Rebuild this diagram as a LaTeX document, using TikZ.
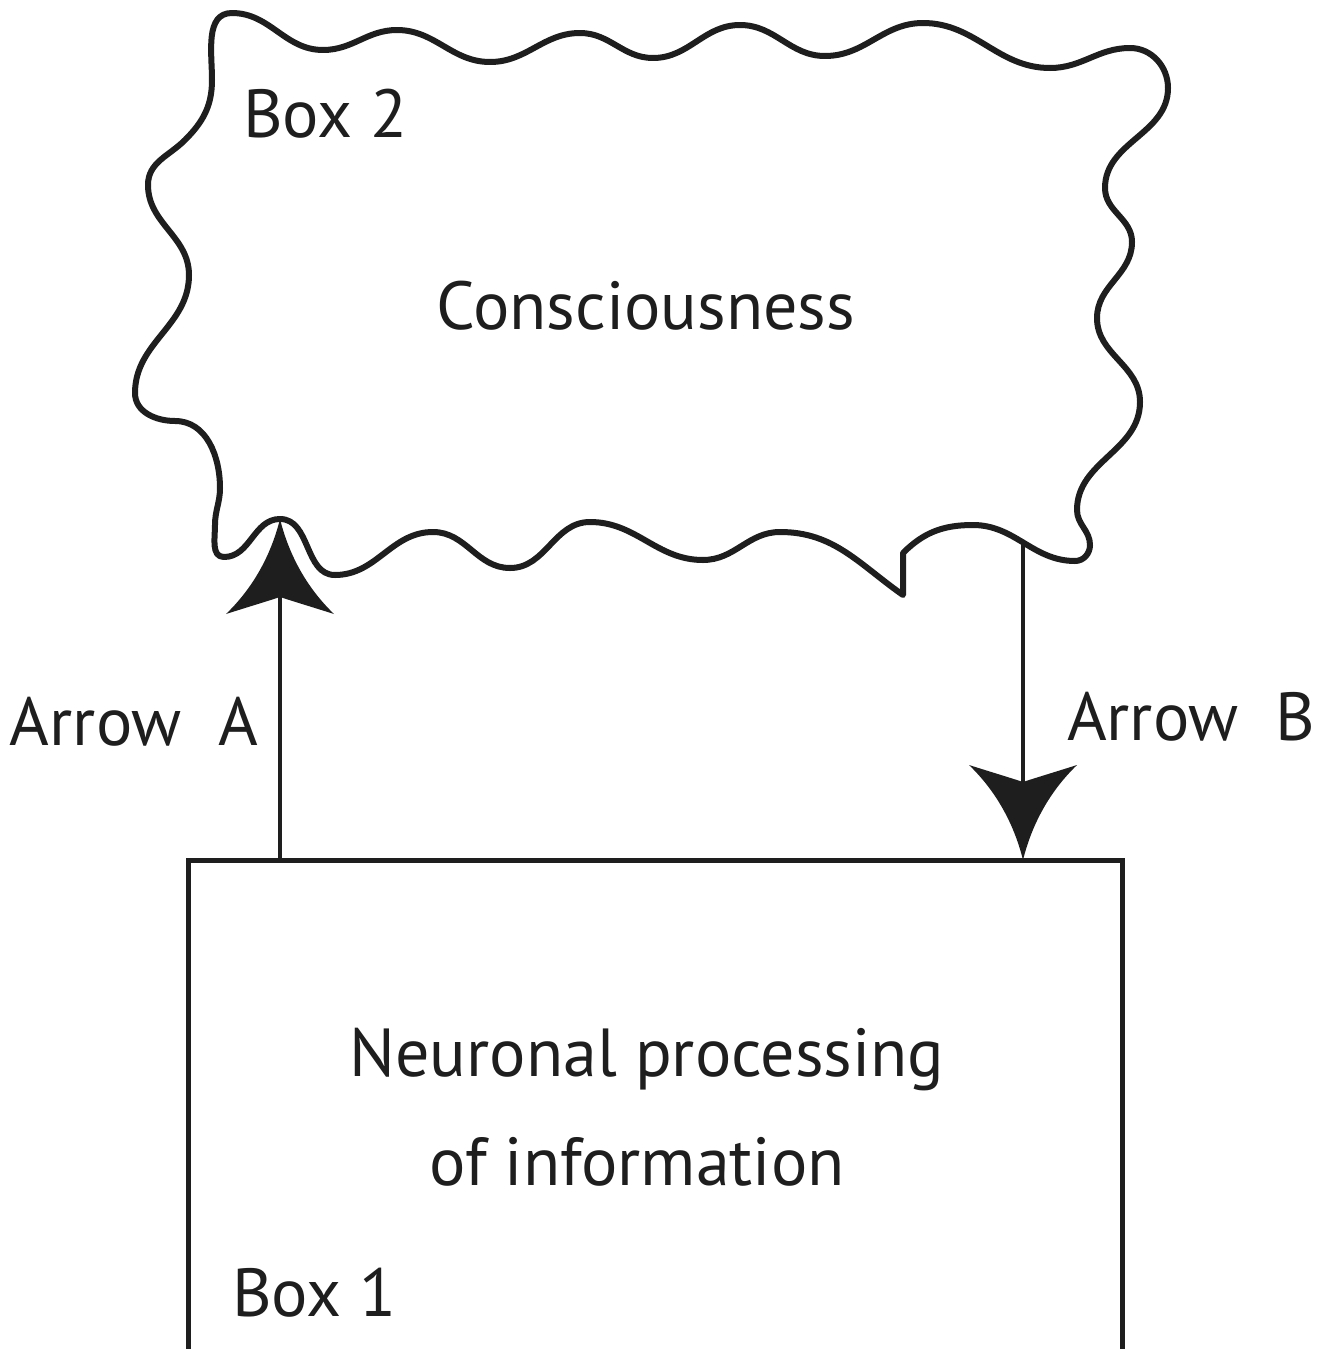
\documentclass[tikz,border=0pt]{standalone}
\usepackage{fontspec}
\setmainfont{PT Sans}
\definecolor{ink}{HTML}{1E1E1E}
\pgfdeclarearrow{
  name = Flare,
  setup code = {%
    \pgfarrowssettipend{0pt}%
    \pgfarrowssetbackend{-47.5pt}%
    \pgfarrowssetlineend{-30pt}%
    \pgfarrowshullpoint{0pt}{0pt}%
    \pgfarrowsupperhullpoint{-47.5pt}{27pt}%
  },
  drawing code = {%
    \pgfpathmoveto{\pgfqpoint{0pt}{0pt}}%
    \pgfpathcurveto{\pgfqpoint{-16pt}{4pt}}{\pgfqpoint{-33pt}{12pt}}{\pgfqpoint{-47.5pt}{27pt}}%
    \pgfpathcurveto{\pgfqpoint{-44pt}{16pt}}{\pgfqpoint{-41pt}{6pt}}{\pgfqpoint{-39pt}{0pt}}%
    \pgfpathcurveto{\pgfqpoint{-41pt}{-6pt}}{\pgfqpoint{-44pt}{-16pt}}{\pgfqpoint{-47.5pt}{-27pt}}%
    \pgfpathcurveto{\pgfqpoint{-33pt}{-12pt}}{\pgfqpoint{-16pt}{-4pt}}{\pgfqpoint{0pt}{0pt}}%
    \pgfpathclose
    \pgfusepathqfill
  },
}
\tikzset{
  lbl/.style={inner sep=0pt, outer sep=0pt, text=ink, font=\fontsize{34}{40}\selectfont},
  cloudline/.style={draw=ink, line width=3pt, line join=round},
  rectbox/.style={draw=ink, line width=2.5pt, inner sep=0pt, outer sep=0pt,
    minimum width=467pt, minimum height=260pt},
  conn/.style={color=ink, line width=2.4pt, -Flare},
}
\begin{document}
\begin{tikzpicture}[x=0.5pt, y=-0.5pt]
\useasboundingbox (0,0) rectangle (1323,1349);
\fill[white] (0,0) rectangle (1323,1349);
\clip (0,0) rectangle (1323,1349);

% Box 2 (wavy outline)
\draw[cloudline] (232,13)
 to[out=0,in=180] (323,50) to[out=0,in=180] (397,30) to[out=0,in=180] (490,62)
 to[out=0,in=180] (580,33) to[out=0,in=180] (653,58) to[out=0,in=180] (740,25)
 to[out=0,in=180] (825,56) to[out=0,in=180] (923,23) to[out=0,in=180] (1050,68)
 to[out=0,in=180] (1130,48) to[out=0,in=90] (1168,88)
 to[out=270,in=90] (1105,188) to[out=270,in=90] (1132,242) to[out=270,in=90] (1097,318)
 to[out=270,in=90] (1140,402) to[out=270,in=90] (1077,510) to[out=270,in=90] (1090,545)
 to[out=270,in=0] (1075,561) to[out=180,in=0] (973,525) to[out=180,in=45] (903,553)
 -- (903,595) to[out=145,in=0] (780,532) to[out=180,in=0] (703,560)
 to[out=180,in=0] (590,522) to[out=180,in=0] (510,568) to[out=180,in=0] (433,532)
 to[out=180,in=0] (335,575) to[out=180,in=0] (280,519) to[out=180,in=0] (224,557)
 to[out=180,in=270] (215,525) to[out=90,in=270] (220,488) to[out=90,in=0] (175,421)
 to[out=180,in=270] (135,393) to[out=90,in=270] (189,275) to[out=90,in=270] (148,185)
 to[out=90,in=225] (185,140) to[out=45,in=270] (212,80) to[out=90,in=180] cycle;
\coordinate (cloudA) at (280,519);
\coordinate (cloudB) at (1023,540);
\node[lbl, anchor=base west] (box2label) at (243,137) {Box 2};
\node[lbl, anchor=base] (cons) at (646,329) {Consciousness};

% Box 1
\node[rectbox, anchor=north west] (box1) at (188,860) {};
\node[lbl, anchor=base] (neurA) at (647,1076) {Neuronal processing};
\node[lbl, anchor=base] (neurB) at (637,1185) {of information};
\node[lbl, anchor=base west] (box1label) at (232,1316) {Box 1};

% Arrows
\draw[conn] (box1.north -| cloudA) -- (cloudA);
\draw[conn] (cloudB) -- (box1.north -| cloudB);
\node[lbl, anchor=base west] (arrA) at (10,745) {Arrow\ \ A};
\node[lbl, anchor=base west] (arrB) at (1067,740) {Arrow\ \ B};
\end{tikzpicture}
\end{document}
